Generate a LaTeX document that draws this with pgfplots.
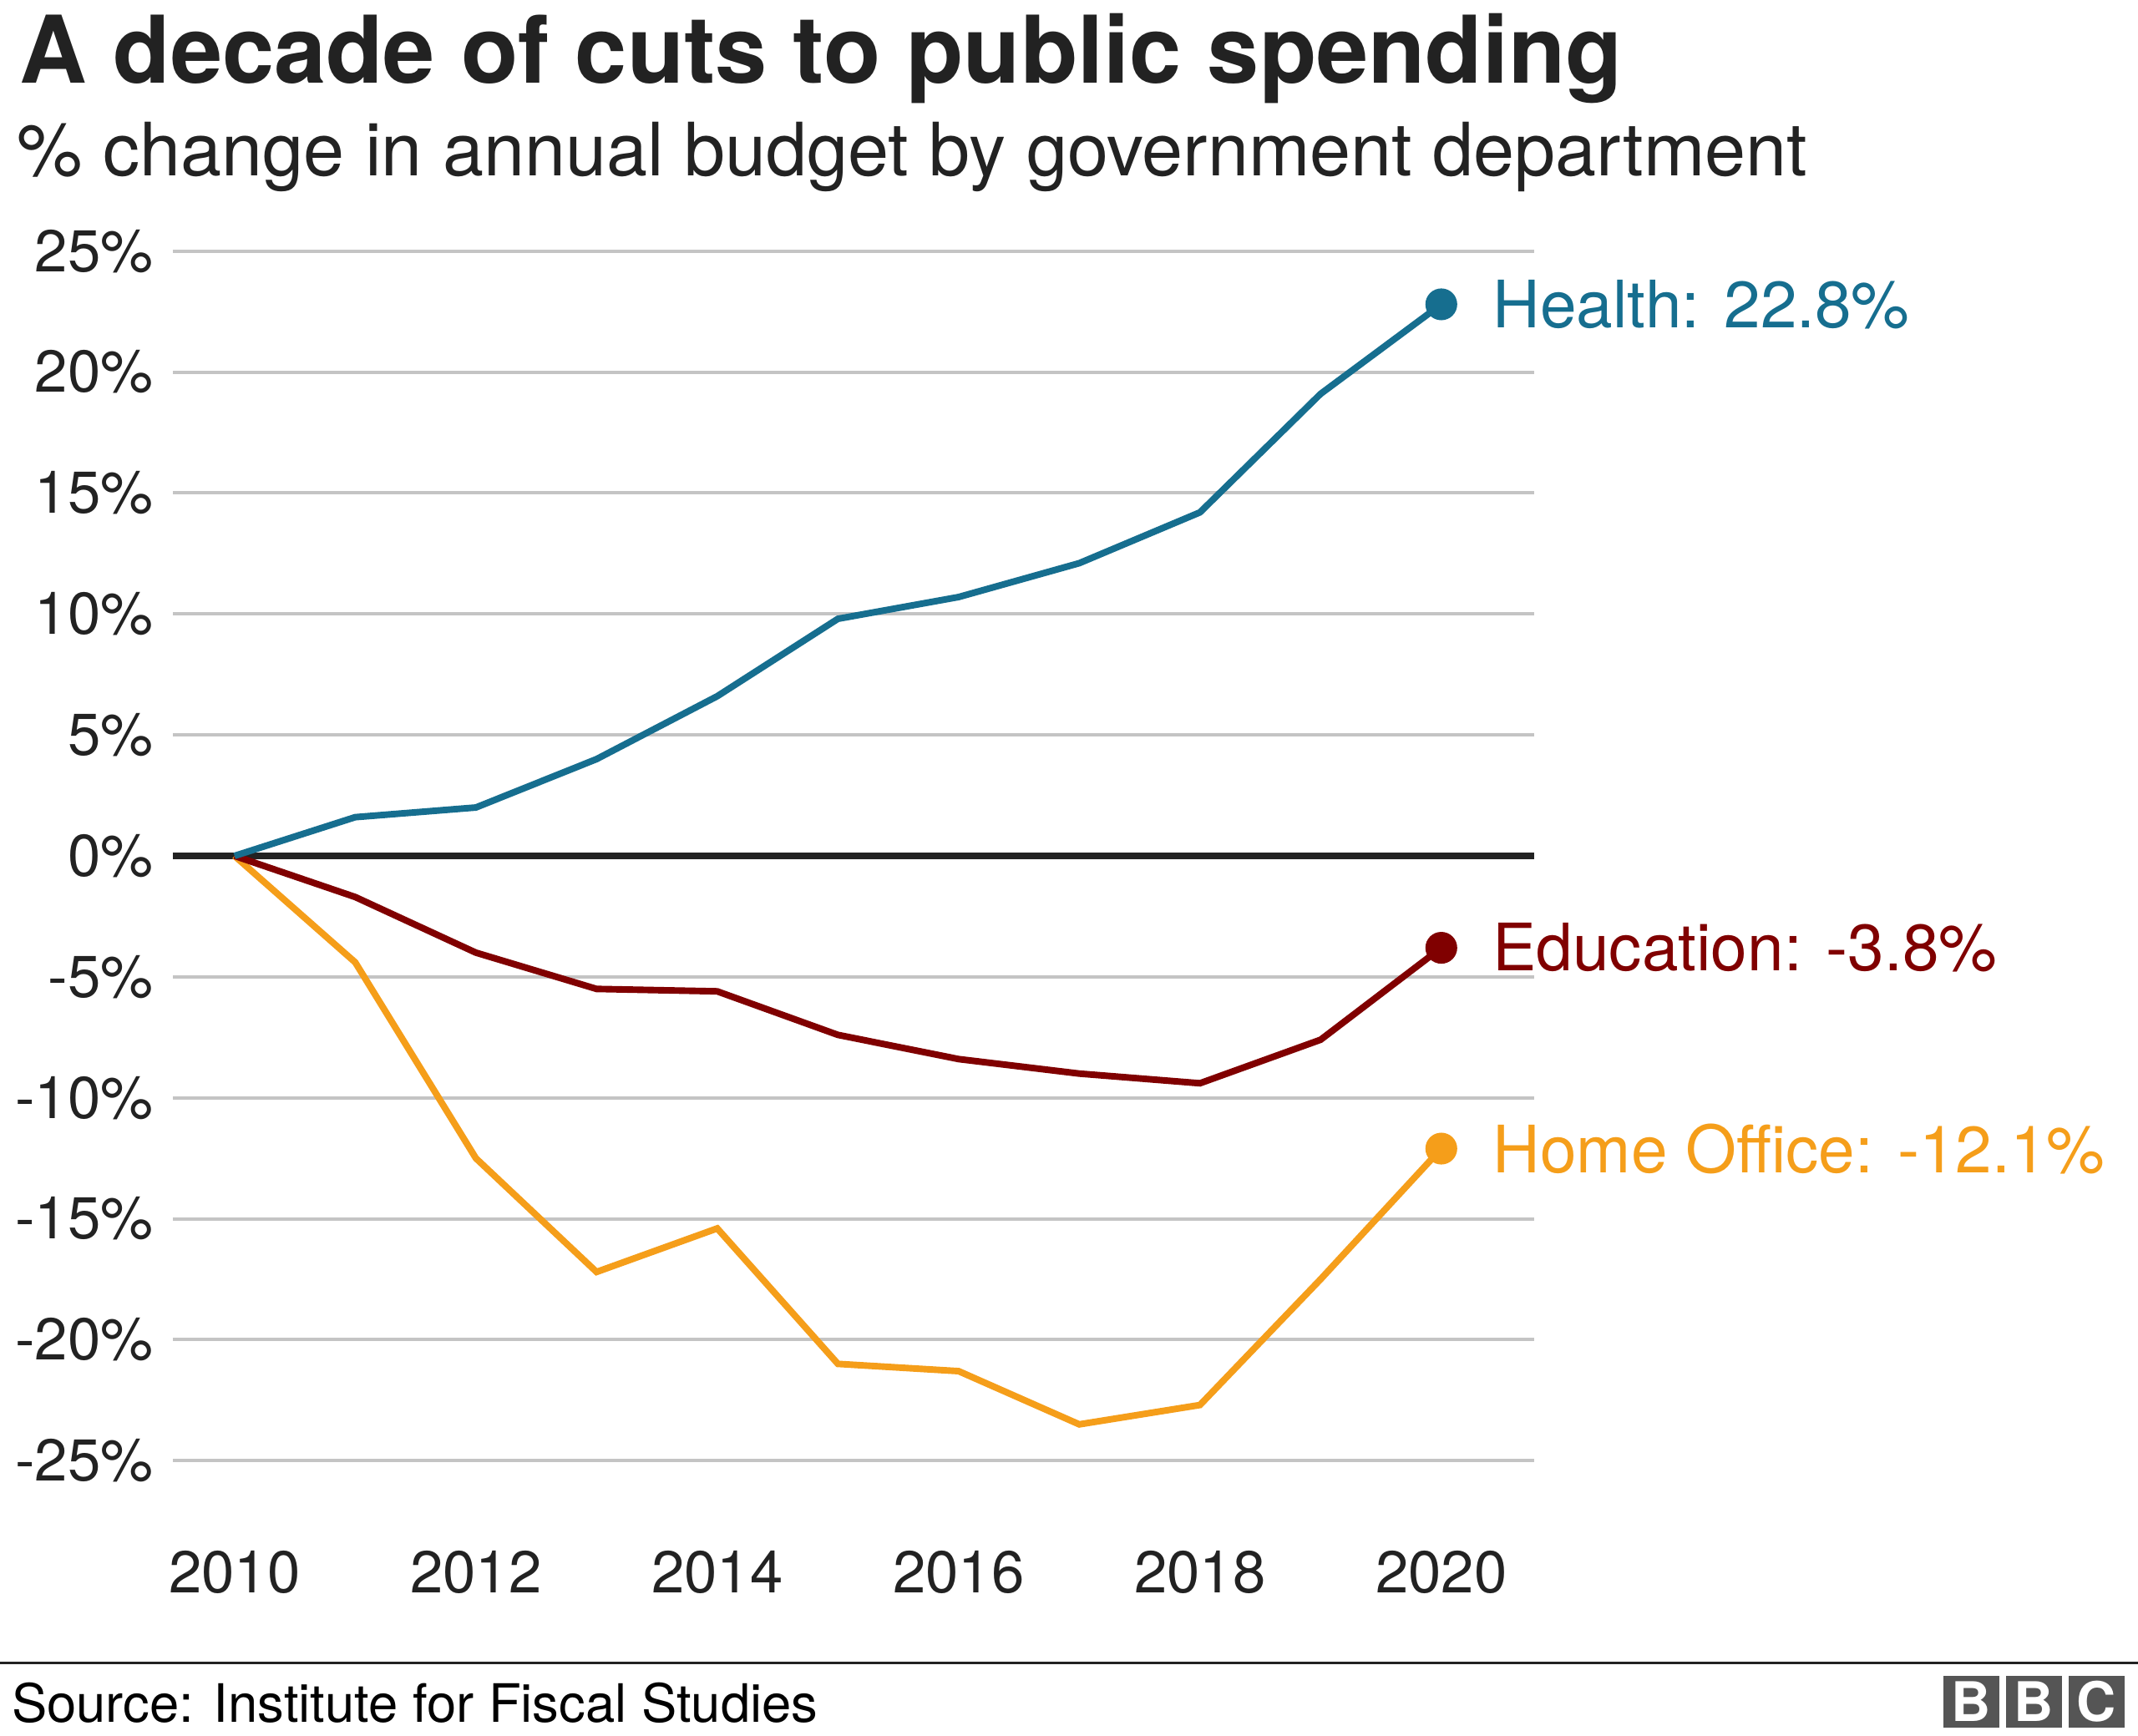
\documentclass[border=0pt]{standalone}
\usepackage{pgfplots}
\pgfplotsset{compat=1.18}
\usepackage{fontspec}
\setmainfont{TeX Gyre Heros}
\definecolor{health}{RGB}{22,110,143}
\definecolor{educ}{RGB}{128,0,0}
\definecolor{home}{RGB}{245,158,26}
\definecolor{ink}{RGB}{34,34,34}
\definecolor{gridc}{RGB}{196,196,196}
\definecolor{logo}{RGB}{85,85,85}
\begin{document}
\begin{tikzpicture}
\useasboundingbox (0,0) rectangle (470.4pt,-381.9pt);
\node[anchor=base west, inner sep=0pt, text=ink, font=\fontsize{20.55}{24}\selectfont\bfseries] at (4.2pt,-18.3pt) {A decade of cuts to public spending};
\node[anchor=base west, inner sep=0pt, text=ink, font=\fontsize{16.2}{19}\selectfont] at (3.6pt,-38.7pt) {\% change in annual budget by government department};
\begin{axis}[
  at={(38.1pt,-321.42pt)}, anchor=south west,
  scale only axis, width=299.4pt, height=266.16pt,
  xmin=2009.4915, xmax=2020.768, ymin=-25, ymax=25,
  axis line style={draw=none},
  major tick length=0pt,
  ytick={-25,-20,-15,-10,-5,0,5,10,15,20,25},
  yticklabels={-25\%,-20\%,-15\%,-10\%,-5\%,0\%,5\%,10\%,15\%,20\%,25\%},
  xtick={2010,2012,2014,2016,2018,2020},
  xticklabels={2010,2012,2014,2016,2018,2020},
  yticklabel style={anchor=east, inner sep=0pt, xshift=-4.2pt, text=ink, font=\fontsize{13}{15}\selectfont},
  xticklabel style={anchor=north, inner sep=0pt, yshift=-19.7pt, text=ink, font=\fontsize{13}{15}\selectfont},
  ymajorgrids, grid style={gridc, line width=0.75pt},
  clip=false,
]
\addplot[ink, line width=1.35pt, forget plot] coordinates {(2009.4915,0) (2020.768,0)};
\addplot[home, line width=1.45pt, mark=none] coordinates {
 (2010,0) (2011,-4.4) (2012,-12.5) (2013,-17.2) (2014,-15.4) (2015,-21.0)
 (2016,-21.3) (2017,-23.5) (2018,-22.7) (2019,-17.5) (2020,-12.1)};
\addplot[educ, line width=1.45pt, mark=none] coordinates {
 (2010,0) (2011,-1.7) (2012,-4.0) (2013,-5.5) (2014,-5.6) (2015,-7.4)
 (2016,-8.4) (2017,-9.0) (2018,-9.4) (2019,-7.6) (2020,-3.8)};
\addplot[health, line width=1.45pt, mark=none] coordinates {
 (2010,0) (2011,1.6) (2012,2.0) (2013,4.0) (2014,6.6) (2015,9.8)
 (2016,10.7) (2017,12.1) (2018,14.2) (2019,19.1) (2020,22.8)};
\addplot[only marks, mark=*, mark size=3.3pt, health, mark options={draw=health, fill=health}] coordinates {(2020,22.8)};
\addplot[only marks, mark=*, mark size=3.3pt, educ, mark options={draw=educ, fill=educ}] coordinates {(2020,-3.8)};
\addplot[only marks, mark=*, mark size=3.3pt, home, mark options={draw=home, fill=home}] coordinates {(2020,-12.1)};
\node[anchor=west, inner sep=0pt, text=health, font=\fontsize{14.4}{17}\selectfont] at (axis cs:2020.42,22.8) {Health: 22.8\%};
\node[anchor=west, inner sep=0pt, text=educ, font=\fontsize{14.4}{17}\selectfont] at (axis cs:2020.42,-3.8) {Education: -3.8\%};
\node[anchor=west, inner sep=0pt, text=home, font=\fontsize{14.4}{17}\selectfont] at (axis cs:2020.42,-12.1) {Home Office: -12.1\%};
\end{axis}
\draw[ink, line width=0.5pt] (0pt,-366pt) -- (470.4pt,-366pt);
\node[anchor=base west, inner sep=0pt, text=black, font=\fontsize{11.65}{13}\selectfont] at (2.4pt,-378.9pt) {Source: Institute for Fiscal Studies};
\foreach \i/\l in {0/B,1/B,2/C}{
  \fill[logo] ({(1425+46*\i)*0.3pt},-368.7pt) rectangle ({(1466+46*\i)*0.3pt},-380.1pt);
  \node[text=white, inner sep=0pt, font=\fontsize{12}{14}\selectfont\bfseries] at ({(1445.5+46*\i)*0.3pt},-374.4pt) {\l};
}
\end{tikzpicture}
\end{document}
